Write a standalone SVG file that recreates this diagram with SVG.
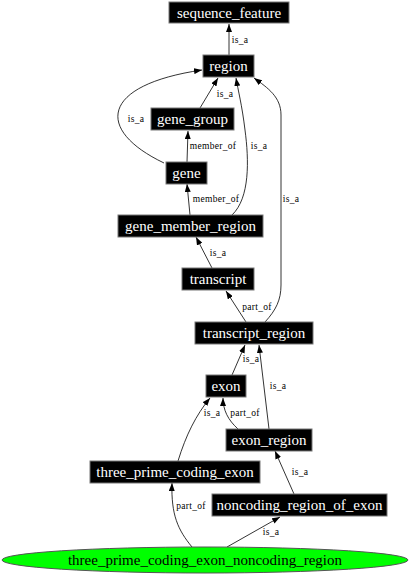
<svg xmlns="http://www.w3.org/2000/svg" width="410" height="576" viewBox="0 0 410 576">
<style>
.box{fill:#000;stroke:#777;stroke-width:1}
.nt{font-family:"Liberation Serif",serif;font-size:15px;fill:#fff;text-anchor:middle}
.et{font-family:"Liberation Serif",serif;font-size:9.5px;letter-spacing:0.3px;fill:#000;text-anchor:middle}
.e{fill:none;stroke:#000;stroke-width:0.8;marker-end:url(#ah)}
</style>
<defs>
<marker id="ah" markerUnits="userSpaceOnUse" markerWidth="8" markerHeight="6" refX="8" refY="3" orient="auto">
<path d="M0,0 L8,3 L0,6 z" fill="#000"/>
</marker>
</defs>
<rect width="410" height="576" fill="#fff"/>
<g id="edges">
<path class="e" d="M229,55 L229,24"/>
<path class="e" d="M200,108 L218,78"/>
<path class="e" d="M164,163 C95,130 100,85 202,70"/>
<path class="e" d="M187,162 L188,131"/>
<path class="e" d="M190,215 L187,184"/>
<path class="e" d="M232,215 C250,198 249,160 245,130 C242,105 238,90 236,78"/>
<path class="e" d="M212,268 L196,237"/>
<path class="e" d="M246,322 L226,291"/>
<path class="e" d="M265,322 C276,310 281,300 281,285 L281,115 C281,97 268,88 254,78"/>
<path class="e" d="M232,375 L245,345"/>
<path class="e" d="M269,429 L259,345"/>
<path class="e" d="M238,429 C228,420 223,410 223,398"/>
<path class="e" d="M178,461 C186,435 196,415 210,398"/>
<path class="e" d="M294,494 L275,451"/>
<path class="e" d="M192,547 C178,530 171,515 172,483"/>
<path class="e" d="M227,547 L280,517"/>
<text class="et" x="240" y="43">is_a</text>
<text class="et" x="225" y="97">is_a</text>
<text class="et" x="136" y="122">is_a</text>
<text class="et" x="213" y="149">member_of</text>
<text class="et" x="259" y="149">is_a</text>
<text class="et" x="216" y="202">member_of</text>
<text class="et" x="291" y="202">is_a</text>
<text class="et" x="218" y="256">is_a</text>
<text class="et" x="257" y="310">part_of</text>
<text class="et" x="251" y="362">is_a</text>
<text class="et" x="278" y="389">is_a</text>
<text class="et" x="212" y="416">is_a</text>
<text class="et" x="245" y="416">part_of</text>
<text class="et" x="300" y="475">is_a</text>
<text class="et" x="191" y="509">part_of</text>
<text class="et" x="271" y="535">is_a</text>
</g>
<g id="sequence_feature"><rect class="box" x="169" y="2" width="120" height="21"/><text class="nt" x="229" y="17.5">sequence_feature</text></g>
<g id="region"><rect class="box" x="203" y="55" width="51" height="22"/><text class="nt" x="228.5" y="71">region</text></g>
<g id="gene_group"><rect class="box" x="151" y="108" width="83" height="22"/><text class="nt" x="192.5" y="124">gene_group</text></g>
<g id="gene"><rect class="box" x="166" y="162" width="41" height="22"/><text class="nt" x="186.5" y="178">gene</text></g>
<g id="gene_member_region"><rect class="box" x="118" y="215" width="145" height="22"/><text class="nt" x="190.5" y="231">gene_member_region</text></g>
<g id="transcript"><rect class="box" x="182" y="268" width="72" height="22"/><text class="nt" x="218" y="284">transcript</text></g>
<g id="transcript_region"><rect class="box" x="195" y="322" width="118" height="22"/><text class="nt" x="254" y="338">transcript_region</text></g>
<g id="exon"><rect class="box" x="206" y="375" width="40" height="22"/><text class="nt" x="226" y="391">exon</text></g>
<g id="exon_region"><rect class="box" x="226" y="429" width="86" height="22"/><text class="nt" x="269" y="445">exon_region</text></g>
<g id="three_prime_coding_exon"><rect class="box" x="90" y="461" width="170" height="22"/><text class="nt" x="175" y="477">three_prime_coding_exon</text></g>
<g id="noncoding_region_of_exon"><rect class="box" x="212" y="494" width="175" height="22"/><text class="nt" x="299.5" y="510">noncoding_region_of_exon</text></g>
<g id="three_prime_coding_exon_noncoding_region"><ellipse cx="205" cy="560" rx="203" ry="13" fill="#00ff00" stroke="#555" stroke-width="1"/><text class="nt" x="205" y="565" style="fill:#000">three_prime_coding_exon_noncoding_region</text></g>
</svg>
